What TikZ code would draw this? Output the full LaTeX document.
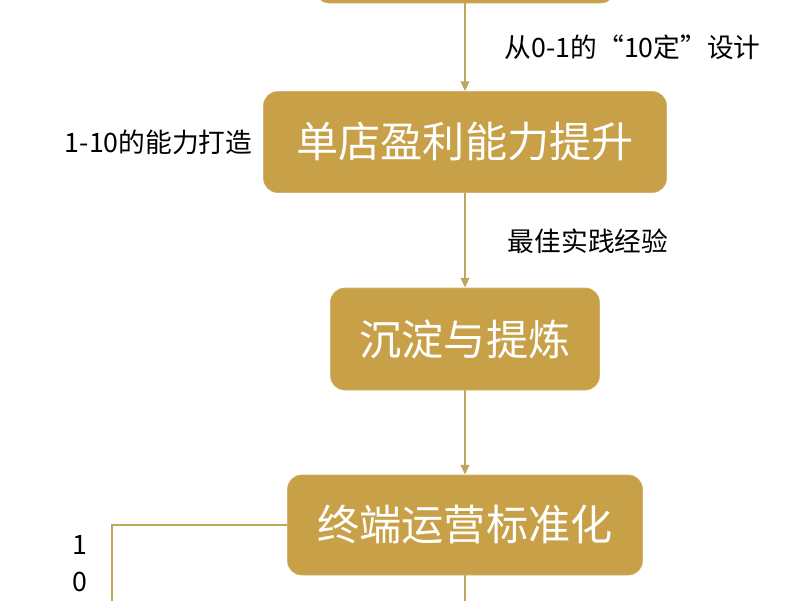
\documentclass[tikz,border=0pt]{standalone}
\usepackage{fontspec}
\newfontfamily\cjk{Noto Sans CJK SC}
\newfontfamily\cjkm{Noto Sans CJK SC Medium}
\usetikzlibrary{arrows.meta}
\definecolor{gold}{RGB}{199,160,72}
\definecolor{goldline}{RGB}{190,166,92}
\tikzset{
	box/.style = {fill=gold, draw=gold!80!white, rounded corners=10pt, text=white, font=\cjk\fontsize{30}{34}\selectfont, inner sep=0pt},
	flow/.style = {goldline, line width=1.6pt},
	note/.style = {font=\cjk\fontsize{19}{22}\selectfont, text=black, anchor=west}
}
\begin{document}
\begin{tikzpicture}[x=0.025cm, y=-0.025cm]
	\useasboundingbox (0,0) rectangle (800,600);
	\clip (0,0) rectangle (800,600);
	%boxes
	\node[box, minimum width=300*0.025cm, minimum height=80*0.025cm] (top) at (465,-37) {};
	\node[box, minimum width=403*0.025cm, minimum height=101*0.025cm] (gain) at (465,142) {单店盈利能力提升};
	\node[box, minimum width=269*0.025cm, minimum height=102*0.025cm] (refine) at (465,339) {沉淀与提炼};
	\node[box, minimum width=355*0.025cm, minimum height=100*0.025cm] (std) at (465,525) {终端运营标准化};
	\coordinate (bend) at (112,525);
	\coordinate (endL) at (112,620);
	\coordinate (endB) at (465,620);
	%arrows
	\draw[flow, -{Triangle[length=7pt, width=6pt]}] (top) -- (gain);
	\draw[flow, -{Triangle[length=7pt, width=6pt]}] (gain) -- (refine);
	\draw[flow, -{Triangle[length=7pt, width=6pt]}] (refine) -- (std);
	\draw[flow] (std.west) -- (bend) -- (endL);
	\draw[flow] (std) -- (endB);
	%texts
	\node[note] (l1) at (500,47) {从0-1的“10定”设计};
	\node[note] (l2) at (60,142) {1-10的能力打造};
	\node[note] (l3) at (503,241) {最佳实践经验};
	\node[note, anchor=center] (d1) at (80,545) {1};
	\node[note, anchor=center] (d2) at (80,582) {0};
\end{tikzpicture}
\end{document}
